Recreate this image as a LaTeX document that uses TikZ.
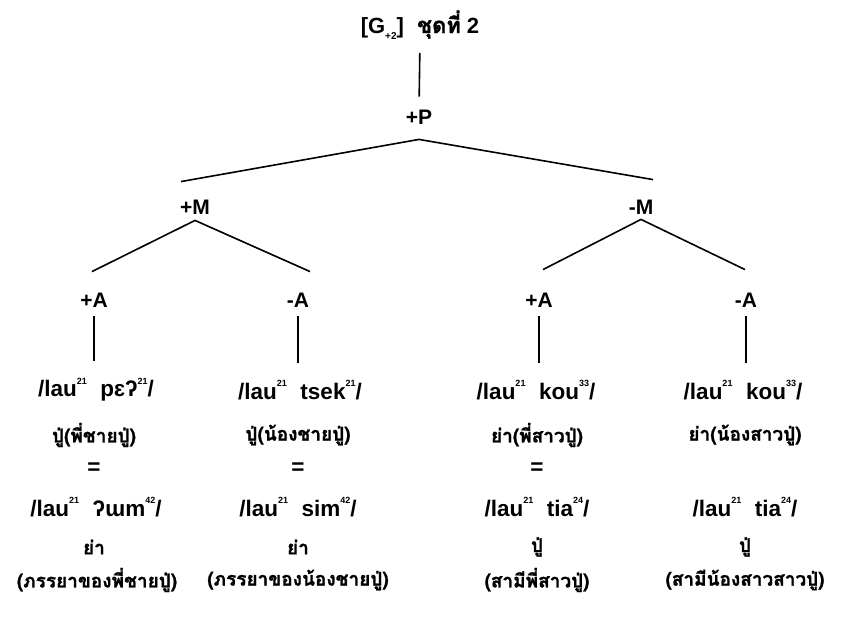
\documentclass[tikz,border=0pt]{standalone}
\usepackage{fontspec}
\setmainfont{Liberation Sans}
\newfontfamily\thaifont[Script=Thai, BoldFeatures={FakeBold=1.2}]{Loma}
\newcommand\tone[1]{\raisebox{0.55em}{\fontsize{9}{9}\selectfont #1}}
\newcommand\lau[2]{/lau\tone{21}\hspace{0.6em}#1\tone{#2}/}

\tikzset{
  feat/.style={font=\bfseries\fontsize{21}{24}\selectfont, inner sep=0pt},
  form/.style={font=\bfseries\fontsize{22.5}{26}\selectfont, inner sep=0pt},
  gloss/.style={font=\thaifont\bfseries\fontsize{19}{22}\selectfont, inner sep=0pt},
  branch/.style={line width=1.6pt},
}

\begin{document}
\begin{tikzpicture}[x=1pt, y=-1pt]
  \useasboundingbox (0,0) rectangle (841,620);
  % tree
  \node[feat, font=\bfseries\fontsize{22}{26}\selectfont] (title) at (420,25) {[G\raisebox{-0.3em}{\fontsize{10}{10}\selectfont +2}]\hspace{0.6em}{\thaifont ชุดที่} 2};
  \node[feat] (p) at (419,117) {+P};
  \node[feat] (m1) at (195,207) {+M};
  \node[feat] (m2) at (641,207) {-M};
  \node[feat] (a1) at (94,300) {+A};
  \node[feat] (a2) at (298,300) {-A};
  \node[feat] (a3) at (539,300) {+A};
  \node[feat] (a4) at (746,300) {-A};
  % first column
  \node[form] (t1) at (96,390) {\lau{pɛʔ}{21}};
  \node[gloss] (g1) at (94,435) {ปู่(พี่ชายปู่)};
  \node[form] (e1) at (94,469) {=};
  \node[form] (s1) at (96,507) {\lau{ʔɯm}{42}};
  \node[gloss] (h1) at (94,547) {ย่า};
  \node[gloss] (n1) at (97,580) {(ภรรยาของพี่ชายปู่)};
  % second column
  \node[form] (t2) at (300,390) {\lau{tsek}{21}};
  \node[gloss] (g2) at (298,435) {ปู่(น้องชายปู่)};
  \node[form] (e2) at (298,469) {=};
  \node[form] (s2) at (298,507) {\lau{sim}{42}};
  \node[gloss] (h2) at (298,547) {ย่า};
  \node[gloss] (n2) at (298,580) {(ภรรยาของน้องชายปู่)};
  % third column
  \node[form] (t3) at (536,390) {\lau{kou}{33}};
  \node[gloss] (g3) at (537,435) {ย่า(พี่สาวปู่)};
  \node[form] (e3) at (537,469) {=};
  \node[form] (s3) at (537,507) {\lau{tia}{24}};
  \node[gloss] (h3) at (537,547) {ปู่};
  \node[gloss] (n3) at (537,580) {(สามีพี่สาวปู่)};
  % fourth column
  \node[form] (t4) at (743,390) {\lau{kou}{33}};
  \node[gloss] (g4) at (745,435) {ย่า(น้องสาวปู่)};
  \node[form] (s4) at (745,507) {\lau{tia}{24}};
  \node[gloss] (h4) at (745,547) {ปู่};
  \node[gloss] (n4) at (745,580) {(สามีน้องสาวสาวปู่)};
  % branches
  \draw[branch, shorten <=13pt, shorten >=13pt] (title.south) -- (p.north);
  \draw[branch] ([xshift=-14pt,yshift=18pt]m1.north) -- ([yshift=-15pt]p.south) -- ([xshift=12pt,yshift=20pt]m2.north);
  \draw[branch] ([xshift=-2pt,yshift=21pt]a1.north) -- ([yshift=-6pt]m1.south) -- ([xshift=12pt,yshift=21pt]a2.north);
  \draw[branch] ([xshift=4pt,yshift=23pt]a3.north) -- ([yshift=-5pt]m2.south) -- ([xshift=-1pt,yshift=23pt]a4.north);
  \foreach \i in {1,...,4}
    \draw[branch, shorten <=9pt, shorten >=17pt] (a\i.south) -- (a\i.south |- t\i.north);
\end{tikzpicture}
\end{document}
